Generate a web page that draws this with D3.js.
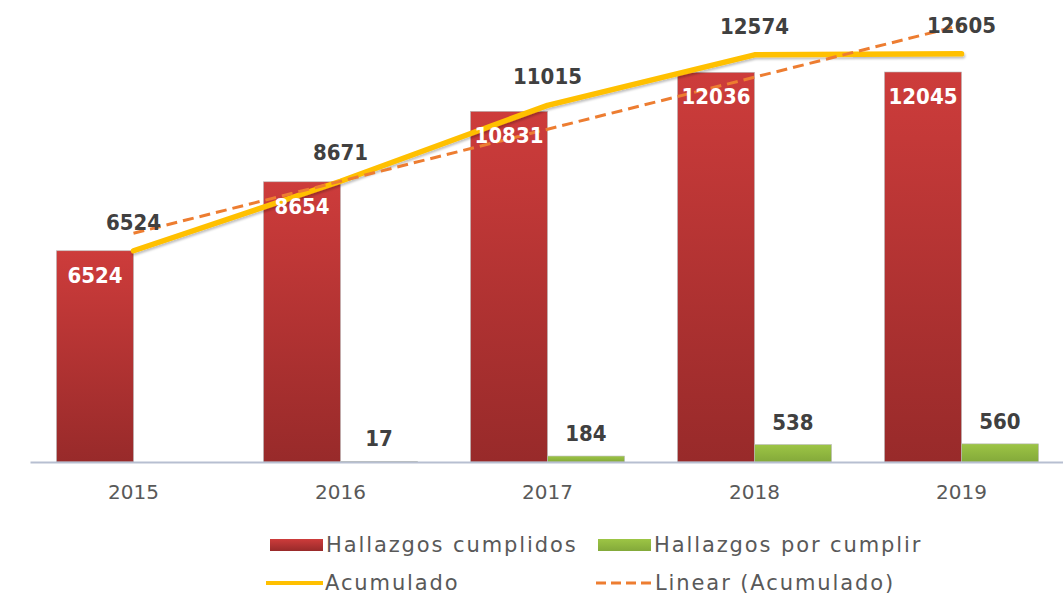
<!DOCTYPE html>
<html>
<head>
<meta charset="utf-8">
<script src="https://cdn.jsdelivr.net/npm/d3@7"></script>
<style>
  body { margin: 0; background: #fff; }
  svg { display: block; }
</style>
</head>
<body>
<div id="app"></div>
<script>
const years = ["2015", "2016", "2017", "2018", "2019"];
const cumplidos = [6524, 8654, 10831, 12036, 12045];
const porCumplir = [null, 17, 184, 538, 560];
const acumulado = [6524, 8671, 11015, 12574, 12605];

const width = 1063, height = 602;
const labelFont = "'DejaVu Sans Condensed', 'DejaVu Sans', sans-serif";

const svg = d3.select("#app").append("svg")
    .attr("width", width)
    .attr("height", height)
    .attr("viewBox", [0, 0, width, height]);

const defs = svg.append("defs");
const redGrad = defs.append("linearGradient").attr("id", "red").attr("x1", 0).attr("x2", 0).attr("y1", 0).attr("y2", 1);
redGrad.append("stop").attr("offset", "0%").attr("stop-color", "#cd3c3b");
redGrad.append("stop").attr("offset", "100%").attr("stop-color", "#982a2a");
const greenGrad = defs.append("linearGradient").attr("id", "green").attr("x1", 0).attr("x2", 0).attr("y1", 0).attr("y2", 1);
greenGrad.append("stop").attr("offset", "0%").attr("stop-color", "#9dc545");
greenGrad.append("stop").attr("offset", "100%").attr("stop-color", "#83a93a");
const shadow = defs.append("filter").attr("id", "shadow").attr("x", "-5%").attr("y", "-20%").attr("width", "110%").attr("height", "160%");
shadow.append("feDropShadow").attr("dx", 1).attr("dy", 2).attr("stdDeviation", 1.2).attr("flood-color", "#000").attr("flood-opacity", 0.25);

// scales
const x = d3.scaleBand().domain(years).range([30, 1065]).paddingInner(0.256).paddingOuter(0.128);
const xs = d3.scaleBand().domain(["c", "p"]).range([0, x.bandwidth()]);
const y = d3.scaleLinear().domain([0, 14000]).range([462, 8.7]);

// bars
const g = svg.append("g");
g.selectAll("rect.c")
  .data(years)
  .join("rect")
    .attr("class", "c")
    .attr("x", d => x(d) + xs("c"))
    .attr("width", xs.bandwidth())
    .attr("y", (d, i) => y(cumplidos[i]))
    .attr("height", (d, i) => y(0) - y(cumplidos[i]))
    .attr("fill", "url(#red)")
    .attr("stroke", "#b8b8b8")
    .attr("stroke-width", 0.6);

g.selectAll("rect.p")
  .data(years.filter((d, i) => porCumplir[i] != null))
  .join("rect")
    .attr("class", "p")
    .attr("x", d => x(d) + xs("p"))
    .attr("width", xs.bandwidth())
    .attr("y", d => y(porCumplir[years.indexOf(d)]))
    .attr("height", d => y(0) - y(porCumplir[years.indexOf(d)]))
    .attr("fill", "url(#green)")
    .attr("stroke", "#b8b8b8")
    .attr("stroke-width", 0.6);

// axis
const axis = svg.append("g")
    .attr("transform", `translate(0,${y(0)})`)
    .call(d3.axisBottom(x).tickSize(0).tickPadding(23));
axis.select(".domain").attr("stroke", "#b7bfd1").attr("stroke-width", 2);
axis.selectAll("text")
    .attr("fill", "#595959")
    .style("font-family", "'DejaVu Sans', sans-serif")
    .style("font-size", "20px");

// trend line (least squares fit of acumulado)
const xi = years.map((d, i) => i + 1);
const mx = d3.mean(xi), my = d3.mean(acumulado);
const slope = d3.sum(xi, (v, i) => (v - mx) * (acumulado[i] - my)) / d3.sum(xi, v => (v - mx) ** 2);
const trend = xi.map(v => my + slope * (v - mx));

const cx = d => x(d) + x.bandwidth() / 2;
const line = d3.line().x((d, i) => cx(years[i])).y(d => y(d));

svg.append("path")
    .datum(acumulado)
    .attr("fill", "none")
    .attr("stroke", "#ffc000")
    .attr("stroke-width", 5.5)
    .attr("stroke-linejoin", "round")
    .attr("stroke-linecap", "round")
    .attr("filter", "url(#shadow)")
    .attr("d", line);

svg.append("path")
    .datum([trend[0], trend[trend.length - 1]])
    .attr("fill", "none")
    .attr("stroke", "#ed7d31")
    .attr("stroke-width", 3)
    .attr("stroke-dasharray", "11,6")
    .attr("d", d3.line().x((d, i) => cx(years[i * (years.length - 1)])).y(d => y(d)));

// labels
const lbl = svg.append("g")
    .style("font-family", labelFont)
    .style("font-weight", "bold")
    .style("font-size", "22px")
    .attr("text-anchor", "middle");

lbl.selectAll("text.c")
  .data(years)
  .join("text")
    .attr("x", d => x(d) + xs("c") + xs.bandwidth() / 2)
    .attr("y", (d, i) => y(cumplidos[i]) + 32)
    .attr("fill", "#fff")
    .text((d, i) => cumplidos[i]);

lbl.selectAll("text.p")
  .data(years.filter((d, i) => porCumplir[i] != null))
  .join("text")
    .attr("x", d => x(d) + xs("p") + xs.bandwidth() / 2)
    .attr("y", d => y(porCumplir[years.indexOf(d)]) - 15)
    .attr("fill", "#404040")
    .text(d => porCumplir[years.indexOf(d)]);

lbl.selectAll("text.a")
  .data(years)
  .join("text")
    .attr("x", d => cx(d))
    .attr("y", (d, i) => y(acumulado[i]) - 21)
    .attr("fill", "#404040")
    .text((d, i) => acumulado[i]);

// legend
const legend = svg.append("g")
    .style("font-family", "'DejaVu Sans', sans-serif")
    .style("font-size", "21px")
    .style("letter-spacing", "1.9px")
    .attr("fill", "#595959");

const items = [
  {name: "Hallazgos cumplidos", type: "rect", fill: "url(#red)", x: 270, y: 545},
  {name: "Hallazgos por cumplir", type: "rect", fill: "url(#green)", x: 598, y: 545},
  {name: "Acumulado", type: "line", stroke: "#ffc000", dash: null, x: 266, y: 583},
  {name: "Linear (Acumulado)", type: "line", stroke: "#ed7d31", dash: "10,5", x: 596, y: 583}
];

items.forEach(it => {
  const gi = legend.append("g").attr("transform", `translate(${it.x},${it.y})`);
  if (it.type === "rect") {
    gi.append("rect").attr("x", 0).attr("y", -6).attr("width", 53).attr("height", 12).attr("fill", it.fill);
  } else {
    gi.append("line").attr("x1", 0).attr("x2", 57).attr("stroke", it.stroke)
      .attr("stroke-width", it.dash ? 3 : 4).attr("stroke-dasharray", it.dash);
  }
  gi.append("text").attr("x", it.type === "rect" ? 56 : 59).attr("dy", "0.35em").text(it.name);
});
</script>
</body>
</html>
